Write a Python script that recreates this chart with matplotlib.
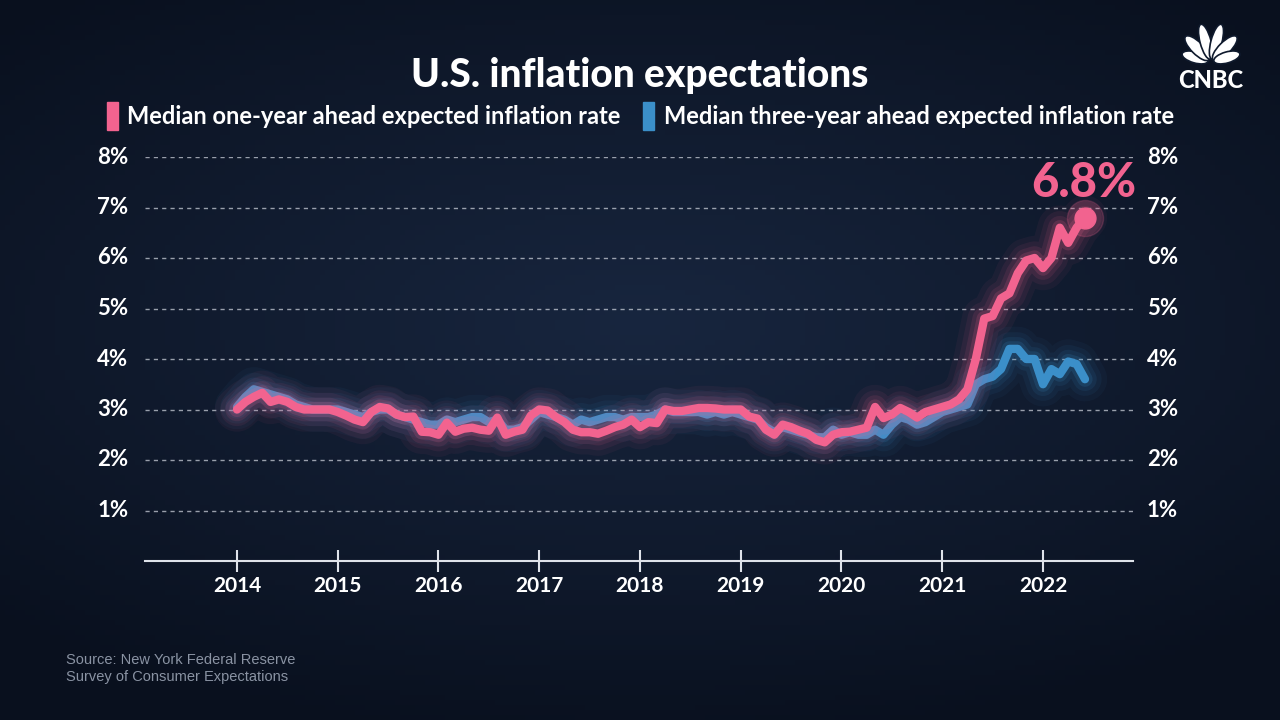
import matplotlib
matplotlib.use("Agg")
import matplotlib.pyplot as plt
import numpy as np
from matplotlib.patches import Ellipse

# monthly, Jan 2014 .. Jun 2022
one_year = [
    3.0, 3.15, 3.25, 3.33, 3.15, 3.2, 3.15, 3.05, 3.0, 3.0, 3.0, 3.0,      # 2014
    2.95, 2.88, 2.8, 2.75, 2.95, 3.05, 3.02, 2.9, 2.85, 2.86, 2.56, 2.55,  # 2015
    2.5, 2.74, 2.56, 2.62, 2.64, 2.6, 2.58, 2.84, 2.5, 2.56, 2.6, 2.88,    # 2016
    3.0, 2.98, 2.85, 2.75, 2.6, 2.55, 2.55, 2.52, 2.58, 2.65, 2.7, 2.8,    # 2017
    2.65, 2.75, 2.73, 3.0, 2.97, 2.97, 3.0, 3.03, 3.03, 3.02, 3.0, 3.0,    # 2018
    3.0, 2.86, 2.82, 2.6, 2.5, 2.7, 2.65, 2.58, 2.52, 2.4, 2.35, 2.5,      # 2019
    2.55, 2.56, 2.6, 2.64, 3.05, 2.83, 2.9, 3.03, 2.95, 2.84, 2.95, 3.0,   # 2020
    3.05, 3.1, 3.2, 3.4, 4.0, 4.8, 4.85, 5.2, 5.3, 5.7, 5.95, 6.0,         # 2021
    5.8, 6.0, 6.6, 6.3, 6.6, 6.8,                                          # 2022
]
three_year = [
    3.05, 3.25, 3.4, 3.35, 3.3, 3.25, 3.2, 3.1, 3.05, 3.0, 3.0, 3.0,
    3.0, 2.95, 2.9, 2.85, 2.95, 3.0, 3.0, 2.9, 2.85, 2.8, 2.75, 2.7,
    2.7, 2.8, 2.75, 2.8, 2.85, 2.85, 2.75, 2.8, 2.6, 2.6, 2.65, 2.8,
    2.95, 2.9, 2.85, 2.8, 2.7, 2.8, 2.75, 2.8, 2.85, 2.85, 2.8, 2.85,
    2.85, 2.85, 2.9, 3.0, 2.95, 2.95, 2.95, 2.95, 2.9, 2.95, 2.9, 2.95,
    2.9, 2.85, 2.8, 2.65, 2.55, 2.65, 2.6, 2.55, 2.5, 2.45, 2.45, 2.6,
    2.5, 2.55, 2.5, 2.5, 2.6, 2.5, 2.7, 2.85, 2.8, 2.7, 2.75, 2.85,
    2.95, 3.0, 3.05, 3.1, 3.5, 3.6, 3.65, 3.8, 4.2, 4.2, 4.0, 4.0,
    3.5, 3.8, 3.7, 3.95, 3.9, 3.6,
]
years = list(range(2014, 2023))
pct_ticks = [1, 2, 3, 4, 5, 6, 7, 8]

PINK = "#f2638f"
BLUE = "#3b8fc9"
BG = "#0f1a2d"
FONT = "Lato"

x = 2014 + np.arange(len(one_year)) / 12.0

fig = plt.figure(figsize=(12.8, 7.2), dpi=100)
fig.patch.set_facecolor(BG)

# background radial gradient
bg = fig.add_axes([0, 0, 1, 1], zorder=-10)
gx, gy = np.meshgrid(np.linspace(-1, 1, 256), np.linspace(-1, 1, 144))
r = np.sqrt((gx * 0.9) ** 2 + ((gy + 0.1) * 1.1) ** 2)
c0 = np.array([0x18, 0x26, 0x3f]) / 255.0
c1 = np.array([0x09, 0x10, 0x1e]) / 255.0
t = np.clip(r / 1.3, 0, 1)[..., None]
bg.imshow(c0 * (1 - t) + c1 * t, aspect="auto", extent=[0, 1, 0, 1])
bg.axis("off")

ax = fig.add_axes([145 / 1280, 1 - 561 / 720, (1133 - 145) / 1280, (561 - 157) / 720])
ax.set_facecolor("none")
ax.set_xlim(2014 - 92 / 100.75, 2014 + 896 / 100.75)
ax.set_ylim(0, 8)

for v in pct_ticks:
    ax.axhline(v, color="#c9ced8", lw=1, ls=(0, (3, 3)), alpha=0.75, zorder=1)

# glow + lines
for series, col, z in [(three_year, BLUE, 3), (one_year, PINK, 5)]:
    for lw, a in [(32, 0.05), (24, 0.07), (17, 0.10), (11, 0.16)]:
        ax.plot(x, series, color=col, lw=lw, alpha=a, solid_capstyle="round",
                solid_joinstyle="round", zorder=z)
    ax.plot(x, series, color=col, lw=6, solid_capstyle="round",
            solid_joinstyle="round", zorder=z + 1)

ax.plot(x[-1], one_year[-1], "o", color=PINK, ms=15, zorder=8)
ax.plot(x[-1], one_year[-1], "o", color=PINK, ms=26, alpha=0.2, zorder=7)
ax.text(x[-1] - 0.01, one_year[-1] + 0.68, "%.1f%%" % one_year[-1], color=PINK,
        fontsize=34, fontweight="black", family=FONT, ha="center", va="center", zorder=9)

for s in ["top", "left", "right"]:
    ax.spines[s].set_visible(False)
ax.spines["bottom"].set_color("#dfe3ea")
ax.spines["bottom"].set_linewidth(1.5)
ax.set_xticks(years)
ax.set_xticklabels([str(y) for y in years])
ax.tick_params(axis="x", colors="#dfe3ea", direction="inout", length=16, width=1.5,
               pad=3, labelsize=15, labelcolor="white")
for lab in ax.get_xticklabels():
    lab.set_family(FONT)
    lab.set_fontweight("bold")

ax.set_yticks(pct_ticks)
ax.set_yticklabels([])
ax.tick_params(axis="y", length=0)
for v in pct_ticks:
    ax.text(-0.017, v, "%d%%" % v, transform=ax.get_yaxis_transform(), ha="right",
            va="center", color="white", fontsize=16, fontweight="bold", family=FONT)
    ax.text(1.014, v, "%d%%" % v, transform=ax.get_yaxis_transform(), ha="left",
            va="center", color="white", fontsize=16, fontweight="bold", family=FONT)

# title and legend
fig.text(0.5, 1 - 75 / 720, "U.S. inflation expectations", ha="center", va="center",
         color="white", fontsize=28, fontweight="black", family=FONT)
leg_y = 1 - 116 / 720
fig.patches.append(plt.Rectangle((107 / 1280, leg_y - 0.019), 11 / 1280, 0.038,
                                 transform=fig.transFigure, color=PINK))
fig.text(127 / 1280, leg_y, "Median one-year ahead expected inflation rate", ha="left",
         va="center", color="white", fontsize=17, fontweight="bold", family=FONT)
fig.patches.append(plt.Rectangle((643 / 1280, leg_y - 0.019), 11 / 1280, 0.038,
                                 transform=fig.transFigure, color=BLUE))
fig.text(664 / 1280, leg_y, "Median three-year ahead expected inflation rate", ha="left",
         va="center", color="white", fontsize=17, fontweight="bold", family=FONT)

# source
fig.text(66 / 1280, 1 - 660 / 720, "Source: New York Federal Reserve", ha="left",
         va="center", color="#8a93a3", fontsize=10.5, family="Liberation Sans")
fig.text(66 / 1280, 1 - 677 / 720, "Survey of Consumer Expectations", ha="left",
         va="center", color="#8a93a3", fontsize=10.5, family="Liberation Sans")

# CNBC mark (simplified peacock); logo axes in pixel units, centre (1211, 58)
logo = fig.add_axes([1165 / 1280, 1 - 92 / 720, 92 / 1280, 68 / 720])
logo.set_xlim(-46, 46)
logo.set_ylim(-34, 34)
logo.axis("off")
for ang, length, w in [(-74, 27, 11), (-45, 33, 12), (-15, 36, 11),
                       (15, 36, 11), (45, 33, 12), (74, 27, 11)]:
    rad = np.deg2rad(ang)
    d = 3 + length / 2
    logo.add_patch(Ellipse((d * np.sin(rad), -4 + d * np.cos(rad)), w, length,
                           angle=-ang, facecolor="white", edgecolor=BG, lw=1.2))
logo.text(0, -22, "CNBC", ha="center", va="center", color="white", fontsize=17,
          fontweight="black", family=FONT)

fig.savefig("out.png", dpi=100, facecolor=fig.get_facecolor())
